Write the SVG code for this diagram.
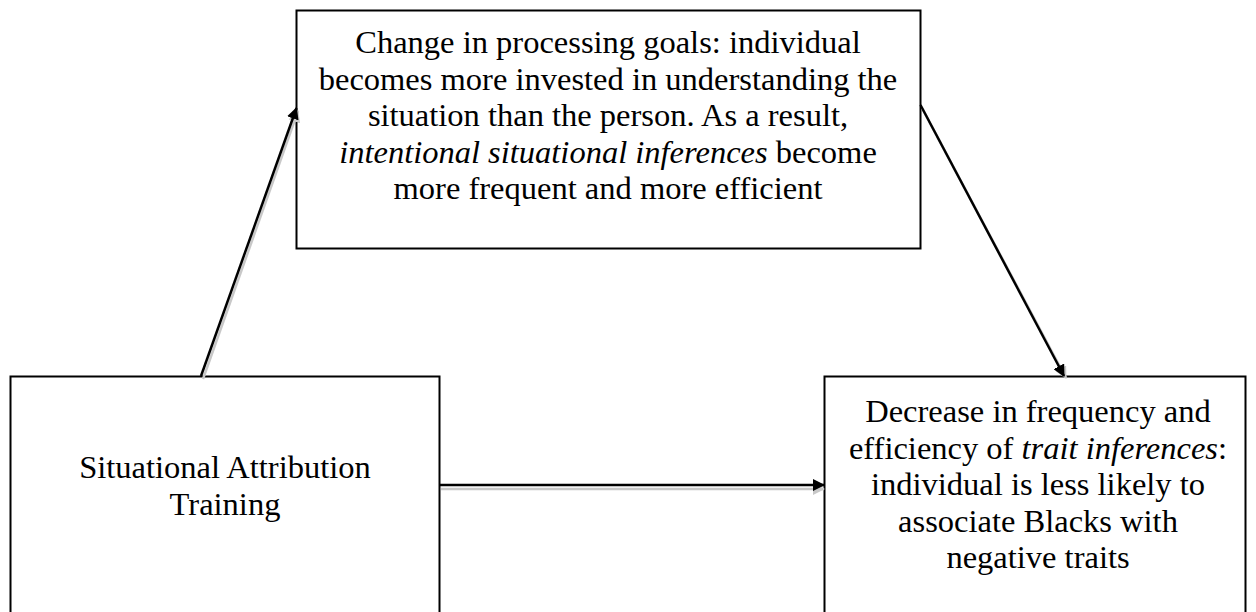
<svg xmlns="http://www.w3.org/2000/svg" width="1256" height="612" viewBox="0 0 1256 612">
<style>
.box{fill:#fff;stroke:#000;stroke-width:2}
.t{font-family:"Liberation Serif","Times New Roman",serif;font-size:32.5px;fill:#000;text-anchor:middle}
.i{font-style:italic}
.ln{stroke:#000;stroke-width:2.5;fill:none}
.sh{stroke:#c8c8c8;stroke-width:2.5;fill:none}
</style>
<defs>
<marker id="ah" markerWidth="12" markerHeight="12" refX="11" refY="6" orient="auto" markerUnits="userSpaceOnUse" viewBox="0 0 12 12">
<path d="M0,0 L12,6 L0,12 z" fill="#000"/>
</marker>
<marker id="ahs" markerWidth="12" markerHeight="12" refX="11" refY="6" orient="auto" markerUnits="userSpaceOnUse" viewBox="0 0 12 12">
<path d="M0,0 L12,6 L0,12 z" fill="#c8c8c8"/>
</marker>
</defs>
<rect width="1256" height="612" fill="#fff"/>
<g id="top">
<rect class="box" x="296.5" y="10.5" width="624" height="238"/>
<text class="t" x="608" y="53">Change in processing goals: individual</text>
<text class="t" x="608" y="89.5">becomes more invested in understanding the</text>
<text class="t" x="608" y="126">situation than the person. As a result,</text>
<text class="t" x="608" y="162.5"><tspan class="i">intentional situational inferences</tspan> become</text>
<text class="t" x="608" y="199">more frequent and more efficient</text>
</g>
<g id="left">
<rect class="box" x="10.5" y="376.5" width="429" height="240"/>
<text class="t" x="225" y="478">Situational Attribution</text>
<text class="t" x="225" y="514.5">Training</text>
</g>
<g id="right">
<rect class="box" x="824.5" y="376.5" width="421" height="240"/>
<text class="t" x="1038" y="422">Decrease in frequency and</text>
<text class="t" x="1038" y="458.5">efficiency of <tspan class="i">trait inferences</tspan>:</text>
<text class="t" x="1038" y="495">individual is less likely to</text>
<text class="t" x="1038" y="531.5">associate Blacks with</text>
<text class="t" x="1038" y="568">negative traits</text>
</g>
<g id="connectors">
<line class="sh" x1="203" y1="379" x2="298" y2="111" marker-end="url(#ahs)"/>
<line class="sh" x1="922" y1="108" x2="1066" y2="378" marker-end="url(#ahs)"/>
<line class="sh" x1="441" y1="489" x2="824" y2="489" marker-end="url(#ahs)"/>
<line class="ln" x1="201" y1="376" x2="296.5" y2="108" marker-end="url(#ah)"/>
<line class="ln" x1="920.5" y1="105" x2="1064" y2="376" marker-end="url(#ah)"/>
<line class="ln" x1="440" y1="485" x2="824" y2="485" marker-end="url(#ah)"/>
</g>
</svg>
